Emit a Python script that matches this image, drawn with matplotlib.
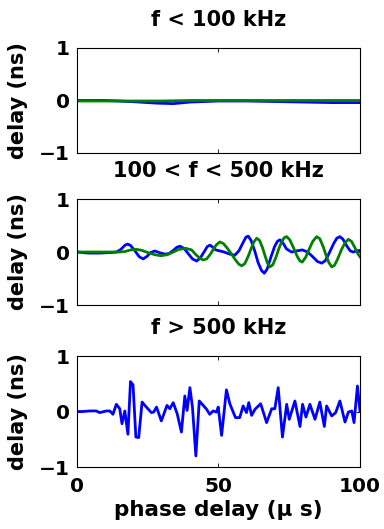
import matplotlib
matplotlib.use("Agg")
import matplotlib.pyplot as plt

plt.rcParams['font.family'] = ['DejaVu Sans']
plt.rcParams['font.weight'] = 'bold'

titles = ["f < 100 kHz", "100 < f < 500 kHz", "f > 500 kHz"]

# f < 100 kHz
low_x = [0, 10, 15, 22, 28, 34, 40, 50, 60, 70, 80, 90, 100]
low_blue = [0.0, 0.0, -0.01, -0.03, -0.05, -0.06, -0.03, -0.01, -0.01, -0.02, -0.03, -0.04, -0.04]
low_green_x = [0, 20, 30, 40, 60, 80, 100]
low_green = [-0.01, -0.01, -0.01, 0.0, 0.0, 0.0, 0.0]

# 100 < f < 500 kHz
mid_blue_x = [0, 4, 8, 12, 14, 15.5, 17, 17.9, 19, 20.5, 22, 23.4, 24.8, 26, 27.5, 29, 31,
              32.5, 34, 35.3, 36.4, 37.8, 39.3, 40.8, 42.3, 43.6, 45, 46, 47, 48, 49, 50.5,
              52, 54, 55.8, 57.3, 58.7, 59.7, 60.5, 61.5, 62.8, 64, 65.2, 66.2, 67.2, 68.5,
              69.8, 70.8, 71.7, 72.8, 74, 75.8, 77.5, 79.6, 81.5, 83.5, 85, 86.5, 87.8, 89.3,
              90.7, 91.8, 92.9, 94, 95.5, 96.6, 97.6, 98.8, 100]
mid_blue = [0, -0.02, -0.02, -0.01, 0.0, 0.05, 0.13, 0.15, 0.12, 0.02, -0.09, -0.13, -0.08,
            -0.01, 0.02, -0.01, -0.04, -0.03, 0.03, 0.09, 0.11, 0.07, -0.03, -0.13, -0.17,
            -0.11, 0.01, 0.1, 0.13, 0.09, 0.04, 0.02, 0.0, -0.04, -0.06, 0.03, 0.18, 0.28,
            0.30, 0.22, 0.02, -0.2, -0.35, -0.40, -0.32, -0.1, 0.1, 0.2, 0.23, 0.17, 0.06,
            0.0, 0.02, 0.04, 0.0, -0.1, -0.18, -0.21, -0.16, 0.0, 0.16, 0.26, 0.29, 0.24,
            0.1, 0.02, 0.0, 0.02, 0.03]
mid_green_x = [0, 10, 15, 17, 19, 21, 23, 25.5, 27.5, 29.6, 32, 34, 36, 38.4, 40.5, 42, 43.5,
               44.6, 45.8, 47, 48.3, 49.3, 50.5, 51.7, 53, 54.5, 56, 57.2, 58.2, 59.3, 60.5,
               61.5, 62.5, 63.5, 64.5, 65.5, 66.5, 67.3, 68.2, 69.2, 70.3, 71.3, 72.3, 73.2,
               74.1, 75.2, 76.5, 77.8, 78.8, 79.6, 80.8, 82, 83.3, 84.7, 85.8, 87, 88, 89, 90,
               91, 92.2, 93.5, 94.8, 95.9, 97, 98.2, 99.2, 100]
mid_green = [0, 0, 0.0, 0.01, 0.04, 0.05, 0.03, -0.02, -0.05, -0.07, -0.05, 0.0, 0.05, 0.07,
             0.04, -0.05, -0.12, -0.15, -0.13, -0.05, 0.06, 0.14, 0.19, 0.16, 0.08, -0.03,
             -0.15, -0.23, -0.26, -0.22, -0.08, 0.06, 0.19, 0.26, 0.22, 0.09, -0.08, -0.21,
             -0.28, -0.24, -0.1, 0.06, 0.19, 0.27, 0.29, 0.23, 0.08, -0.08, -0.17, -0.19,
             -0.1, 0.05, 0.2, 0.29, 0.25, 0.1, -0.06, -0.2, -0.28, -0.25, -0.12, 0.05, 0.18,
             0.24, 0.2, 0.08, -0.03, -0.09]

# f > 500 kHz
high_x = [0, 2.1, 4.5, 6.8, 8.0, 10.4, 11.6, 12.7, 13.9, 15.1, 15.9, 16.9, 18.0, 18.9, 19.8,
          20.8, 21.8, 23.0, 24.5, 26.3, 27.1, 28.1, 29.8, 31.8, 32.8, 34.0, 35.4, 36.9, 38.1,
          38.9, 39.9, 40.8, 42.0, 43.2, 44.6, 45.8, 46.9, 48.1, 49.3, 49.9, 51.1, 52.8, 54.0,
          56.0, 57.5, 58.7, 59.9, 60.7, 61.7, 62.9, 64.9, 67.0, 68.8, 69.9, 71.1, 72.6, 74.1,
          75.0, 77.0, 78.8, 79.7, 80.9, 82.3, 84.1, 85.8, 87.4, 88.2, 90.0, 91.4, 92.9, 94.7,
          95.9, 97.1, 97.9, 99.1, 100]
high_y = [0, 0, 0.01, 0.01, -0.02, 0.01, 0.01, -0.05, 0.13, 0.05, -0.22, 0.01, -0.41, 0.54,
          0.48, -0.46, -0.47, 0.17, 0.08, -0.02, -0.01, 0.08, -0.17, 0.11, 0.05, 0.16, -0.04,
          -0.37, 0.28, 0.02, 0.43, 0.08, -0.80, 0.19, 0.11, 0.04, -0.05, 0.01, -0.01, 0.08,
          -0.43, 0.39, 0.14, -0.11, -0.11, 0.10, -0.02, 0.16, -0.07, 0.04, 0.14, -0.20, 0.05,
          0.05, 0.43, -0.46, 0.13, -0.14, 0.19, -0.27, 0.13, -0.10, 0.13, -0.14, 0.17, -0.27,
          0.10, -0.08, -0.02, 0.19, -0.19, -0.01, 0.01, -0.20, 0.46, 0.0]

blue = (0, 0, 1)
green = (0, 0.5, 0)

fig = plt.figure(figsize=(3.84, 5.29), dpi=100)
boxes = [[0.2005, 0.7108, 0.737, 0.1985],
         [0.2005, 0.4234, 0.737, 0.2004],
         [0.2005, 0.1172, 0.737, 0.2098]]
axes = [fig.add_axes(b) for b in boxes]

axes[0].plot(low_x, low_blue, color=blue, lw=2)
axes[0].plot(low_green_x, low_green, color=green, lw=2)
axes[1].plot(mid_blue_x, mid_blue, color=blue, lw=2)
axes[1].plot(mid_green_x, mid_green, color=green, lw=2)
axes[2].plot(high_x, high_y, color=blue, lw=2)

for i, ax in enumerate(axes):
    ax.set_xlim(0, 100)
    ax.set_ylim(-1, 1)
    ax.set_xticks([0, 50, 100])
    ax.set_yticks([-1, 0, 1])
    ax.tick_params(direction='in', length=3, width=0.6, top=True, right=True,
                   labelsize=14.5, pad=5)
    for s in ax.spines.values():
        s.set_linewidth(0.8)
    ax.set_title(titles[i], fontsize=15, fontweight='bold', pad=16)
    ax.set_ylabel("delay (ns)", fontsize=15, fontweight='bold', labelpad=8)
    if i < 2:
        ax.set_xticklabels([])

axes[2].tick_params(axis='x', pad=7)
axes[2].set_xlabel("phase delay (\u03bc s)", fontsize=15.5, fontweight='bold', labelpad=3)

fig.savefig("out.png", dpi=100)
